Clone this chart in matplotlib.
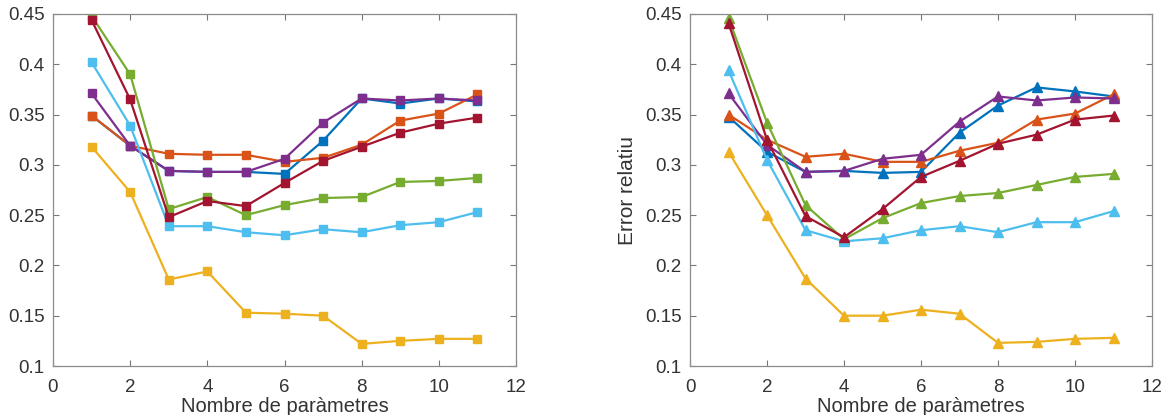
import numpy as np
import matplotlib
matplotlib.use("Agg")
import matplotlib.pyplot as plt

plt.rcParams['font.family'] = ['Liberation Sans', 'DejaVu Sans']
plt.rcParams['font.size'] = 13.5

n_params = [1, 2, 3, 4, 5, 6, 7, 8, 9, 10, 11]

# MATLAB default colour order
colors = ['#0072BD', '#D95319', '#EDB120', '#7E2F8E', '#77AC30', '#4DBEEE', '#A2142F']

## left panel (squares)
left_blue = [0.349, 0.319, 0.294, 0.293, 0.293, 0.291, 0.324, 0.366, 0.361, 0.366, 0.363]
left_orange = [0.349, 0.319, 0.311, 0.310, 0.310, 0.303, 0.307, 0.320, 0.344, 0.351, 0.370]
left_yellow = [0.318, 0.273, 0.186, 0.194, 0.153, 0.152, 0.150, 0.122, 0.125, 0.127, 0.127]
left_purple = [0.371, 0.319, 0.294, 0.293, 0.293, 0.306, 0.342, 0.366, 0.364, 0.366, 0.364]
left_green = [0.448, 0.390, 0.256, 0.268, 0.250, 0.260, 0.267, 0.268, 0.283, 0.284, 0.287]
left_cyan = [0.402, 0.339, 0.239, 0.239, 0.233, 0.230, 0.236, 0.233, 0.240, 0.243, 0.253]
left_darkred = [0.444, 0.365, 0.248, 0.264, 0.259, 0.282, 0.304, 0.318, 0.332, 0.341, 0.347]

## right panel (triangles)
right_blue = [0.348, 0.313, 0.293, 0.294, 0.292, 0.293, 0.332, 0.359, 0.377, 0.373, 0.368]
right_orange = [0.350, 0.325, 0.308, 0.311, 0.303, 0.303, 0.314, 0.322, 0.345, 0.351, 0.370]
right_yellow = [0.313, 0.250, 0.187, 0.150, 0.150, 0.156, 0.152, 0.123, 0.124, 0.127, 0.128]
right_purple = [0.371, 0.320, 0.293, 0.294, 0.306, 0.310, 0.343, 0.368, 0.364, 0.367, 0.366]
right_green = [0.446, 0.342, 0.260, 0.226, 0.247, 0.262, 0.269, 0.272, 0.280, 0.288, 0.291]
right_cyan = [0.394, 0.305, 0.235, 0.224, 0.227, 0.235, 0.239, 0.233, 0.243, 0.243, 0.254]
right_darkred = [0.441, 0.325, 0.249, 0.228, 0.256, 0.288, 0.304, 0.321, 0.330, 0.345, 0.349]

left_series = [left_blue, left_orange, left_yellow, left_purple, left_green, left_cyan, left_darkred]
right_series = [right_blue, right_orange, right_yellow, right_purple, right_green, right_cyan, right_darkred]

fig = plt.figure(figsize=(11.65, 4.15), dpi=100)
W, H = 1165, 415
ax1 = fig.add_axes([53 / W, 1 - 366 / H, 463 / W, 352 / H])
ax2 = fig.add_axes([690 / W, 1 - 366 / H, 462 / W, 352 / H])

for ax, series, mk, ms in [(ax1, left_series, 's', 6), (ax2, right_series, '^', 7.5)]:
    for vals, c in zip(series, colors):
        ax.plot(n_params, vals, '-', marker=mk, color=c, lw=1.6, ms=ms, mfc=c, mec=c)
    ax.set_xlim(0, 12)
    ax.set_ylim(0.1, 0.45)
    ax.set_xticks(np.arange(0, 13, 2))
    ax.set_yticks([0.1, 0.15, 0.2, 0.25, 0.3, 0.35, 0.4, 0.45])
    ax.set_yticklabels(['0.1', '0.15', '0.2', '0.25', '0.3', '0.35', '0.4', '0.45'])
    ax.tick_params(direction='in', top=True, right=True, length=4, color='#777777',
                   labelcolor='#333333', labelsize=13.5)
    ax.tick_params(axis='x', pad=9.5)
    ax.tick_params(axis='y', pad=6)
    for s in ax.spines.values():
        s.set_color('#8c8c8c')
        s.set_linewidth(0.9)
    ax.set_xlabel('Nombre de paràmetres', color='#333333', fontsize=14.5)
    ax.xaxis.set_label_coords(0.5, -0.088)

ax2.set_ylabel('Error relatiu', color='#333333', fontsize=15)
ax2.yaxis.set_label_coords(-0.115, 0.5)

fig.savefig('out.png', dpi=100)
